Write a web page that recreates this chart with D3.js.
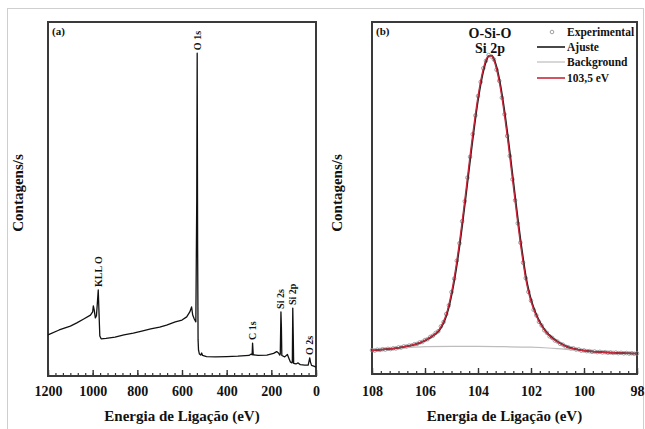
<!DOCTYPE html>
<html><head><meta charset="utf-8">
<script src="https://cdn.jsdelivr.net/npm/d3@7"></script>
<style>body{margin:0;background:#fff} svg{display:block} text{font-family:"Liberation Serif","Times New Roman",serif;font-weight:bold;fill:#111}</style>
</head><body><svg id="c" width="645" height="429"></svg>
<script>
// ---------- Panel (a): survey spectrum ----------
const surveyEnergy = [1200,1150,1100,1071,1040,1010,1000,997,993,988,983,978,975,972,968,962,940,900,860,818,780,740,700,669,630,600,579,565,557,552,545,538,534,532,530,528,526,522,516,512,508,490,450,400,350,300,290,286,284,281,260,220,190,176,168,162,160,157,155,153,140,128,122,115,108,106,104,102,100,90,80,70,50,35,28,25,20,10,0];
const surveyCounts = [11.6,13.0,14.1,15.0,16.1,17.2,18.1,19.8,18.6,16.4,17.0,21.5,24.3,18.6,11.3,10.5,10.6,11.0,11.6,12.1,12.7,13.3,13.8,14.4,15.3,15.8,16.7,18.1,19.5,17.2,16.1,15.3,49.7,91.2,35.6,10.2,7.3,6.2,5.9,6.5,5.8,5.5,5.4,5.5,5.6,5.8,6.2,6.0,9.3,6.0,5.8,5.9,6.4,6.9,6.5,5.9,6.2,18.1,14.0,5.8,5.4,6.1,5.1,4.0,3.7,3.8,19.2,12.0,3.6,3.4,3.7,3.2,3.1,3.1,5.1,4.0,3.0,2.8,2.5];
const surveyPeakLabels = ["O 1s","KLL O","C 1s","Si 2s","Si 2p","O 2s"];
const surveyPeakEnergy = [532,975,284,157,104,28];
const ticksA = [1200,1000,800,600,400,200,0];

// ---------- Panel (b): Si 2p high resolution ----------
const hrEnergy = d3.range(0,101).map(i => +(108 - i*0.1).toFixed(1));
const expCounts = [238,234,242,240,247,244,251,249,256,255,
  265,264,275,274,283,285,297,300,315,320,
  339,347,370,382,409,426,474,518,598,685,
  817,950,1130,1303,1523,1722,1958,2165,2391,2578,
  2772,2912,3049,3123,3180,3166,3136,3034,2924,2755,
  2589,2374,2175,1940,1732,1503,1310,1110,956,819,
  731,640,585,520,484,436,410,376,360,334,
  323,301,293,274,268,255,256,244,245,233,
  235,228,228,221,224,218,221,215,218,212,
  215,210,213,208,211,206,209,204,207,202,205];
const fitCounts = [235,237,240,242,245,247,249,251,254,258,
  262,267,272,276,281,287,294,302,312,323,
  336,350,367,385,405,430,470,522,593,690,
  811,956,1124,1310,1516,1730,1951,2172,2384,2585,
  2765,2919,3042,3130,3173,3173,3129,3041,2917,2762,
  2582,2381,2168,1947,1725,1510,1303,1117,950,825,
  725,645,580,525,480,440,407,380,357,337,
  320,304,290,277,266,258,253,247,242,236,
  233,230,227,224,222,220,219,217,216,214,
  213,212,211,210,209,208,207,206,205,204,203];
const compCounts = [235,237,240,242,245,247,249,251,254,258,
  262,267,272,276,281,287,294,302,312,323,
  336,350,367,385,405,430,470,522,593,690,
  811,956,1124,1310,1516,1730,1951,2172,2384,2585,
  2765,2919,3042,3130,3173,3173,3129,3041,2917,2762,
  2582,2381,2168,1947,1725,1510,1303,1117,950,825,
  725,645,580,525,480,440,407,380,357,337,
  320,304,290,277,266,258,253,247,242,236,
  233,230,227,224,222,220,219,217,216,214,
  213,212,211,210,209,208,207,206,205,204,203];
const bgEnergy = [108,107.5,107,106.5,106,105,104,103,102,101.5,101,100.5,100,99.5,99,98.5,98];
const bgCounts = [235,247,258,267,272,276,275,272,267,262,254,242,230,220,213,208,203];
const ticksB = [108,106,104,102,100,98];
const legendLabels = ["Experimental","Ajuste","Background","103,5 eV"];

const svg = d3.select("#c");
svg.append("rect").attr("x",7.5).attr("y",8.5).attr("width",636).attr("height",440)
  .attr("fill","none").attr("stroke","#cfcfcf").attr("stroke-width",1);

function panel(cfg){
  const g = svg.append("g");
  const x = d3.scaleLinear().domain(cfg.xDomain).range([cfg.left,cfg.right]);
  const y = d3.scaleLinear().domain(cfg.yDomain).range([cfg.bottom,cfg.top]);
  // minor ticks
  g.append("g").attr("transform",`translate(0,${cfg.bottom})`)
    .call(d3.axisBottom(x).tickValues(cfg.minor).tickSize(-3).tickFormat(""))
    .call(s=>{s.select(".domain").remove();s.selectAll("line").attr("stroke","#333").attr("stroke-width",1.2);});
  g.append("g").attr("transform",`translate(0,${cfg.bottom})`)
    .call(d3.axisBottom(x).tickValues(cfg.major).tickSize(-6).tickPadding(cfg.pad).tickFormat(d3.format("d")))
    .call(s=>{s.select(".domain").remove();s.selectAll("line").attr("stroke","#333").attr("stroke-width",1.4);
      s.selectAll("text").attr("font-family","'Liberation Serif',serif").attr("font-weight","bold").attr("font-size",14).attr("fill","#111");});
  g.append("rect").attr("x",cfg.left).attr("y",cfg.top).attr("width",cfg.right-cfg.left).attr("height",cfg.bottom-cfg.top)
    .attr("fill","none").attr("stroke","#3a3a3a").attr("stroke-width",2);
  g.append("text").attr("x",(cfg.left+cfg.right)/2).attr("y",421).attr("text-anchor","middle").attr("font-size",15)
    .text("Energia de Ligação (eV)");
  g.append("text").attr("transform",`translate(${cfg.ylabX},193) rotate(-90)`).attr("text-anchor","middle").attr("font-size",15)
    .text("Contagens/s");
  g.append("text").attr("x",cfg.left+4).attr("y",35).attr("font-size",11).text(cfg.tag);
  return {g,x,y};
}

// Panel a
const minorA = d3.range(0,1201,200/6).map(v=>+v.toFixed(3));
const A = panel({xDomain:[1200,0],yDomain:[0,100],left:48,right:316,top:22,bottom:376,
  major:ticksA,minor:minorA,pad:10.5,ylabX:22.5,tag:"(a)"});
const survey = surveyEnergy.map((e,i)=>({e,c:surveyCounts[i]}));
A.g.append("path").datum(survey).attr("fill","none").attr("stroke","#111").attr("stroke-width",1.3)
  .attr("stroke-linejoin","round")
  .attr("d",d3.line().x(d=>A.x(d.e)).y(d=>A.y(d.c)));
surveyPeakLabels.forEach((lab,i)=>{
  const e = surveyPeakEnergy[i];
  const near = survey.filter(d=>Math.abs(d.e-e)<=4);
  const top = d3.max(near,d=>d.c);
  const px = A.x(e), py = A.y(top)-3;
  A.g.append("text").attr("transform",`translate(${px+3.5},${py}) rotate(-90)`).attr("font-size",10).text(lab);
});

// Panel b
const minorB = d3.range(0,31).map(i=>+(98+i/3).toFixed(4));
const B = panel({xDomain:[108,98],yDomain:[0,3510],left:372,right:637,top:22,bottom:374,
  major:ticksB,minor:minorB,pad:12,ylabX:342,tag:"(b)"});
const hr = hrEnergy.map((e,i)=>({e,exp:expCounts[i],fit:fitCounts[i],comp:compCounts[i]}));
const bg = bgEnergy.map((e,i)=>({e,c:bgCounts[i]}));
B.g.append("g").selectAll("circle").data(hr).join("circle")
  .attr("cx",d=>B.x(d.e)).attr("cy",d=>B.y(d.exp)).attr("r",1.8)
  .attr("fill","none").attr("stroke","#8a8a8a").attr("stroke-width",0.8);
B.g.append("path").datum(bg).attr("fill","none").attr("stroke","#bdbdbd").attr("stroke-width",1.2)
  .attr("d",d3.line().curve(d3.curveMonotoneX).x(d=>B.x(d.e)).y(d=>B.y(d.c)));
B.g.append("path").datum(hr).attr("fill","none").attr("stroke","#1a1a1a").attr("stroke-width",1.6)
  .attr("d",d3.line().curve(d3.curveMonotoneX).x(d=>B.x(d.e)+0.6).y(d=>B.y(d.fit)));
B.g.append("path").datum(hr).attr("fill","none").attr("stroke","#c8283c").attr("stroke-width",1.4)
  .attr("d",d3.line().curve(d3.curveMonotoneX).x(d=>B.x(d.e)).y(d=>B.y(d.comp)));
B.g.append("text").attr("x",490).attr("y",38).attr("text-anchor","middle").attr("font-size",14).text("O-Si-O");
B.g.append("text").attr("x",490).attr("y",53).attr("text-anchor","middle").attr("font-size",14).text("Si 2p");

// legend
const legY = [32,47,62,78];
const lg = B.g.append("g");
legendLabels.forEach((lab,i)=>{
  const yy = legY[i];
  if(i===0){
    lg.append("circle").attr("cx",552).attr("cy",yy).attr("r",1.8).attr("fill","none").attr("stroke","#8a8a8a").attr("stroke-width",0.8);
  } else {
    lg.append("line").attr("x1",537).attr("x2",565).attr("y1",yy).attr("y2",yy)
      .attr("stroke",["","#1a1a1a","#bdbdbd","#c8283c"][i]).attr("stroke-width",i===2?1.2:1.6);
  }
  lg.append("text").attr("x",567).attr("y",yy+4).attr("font-size",11.5).text(lab);
});
</script></body></html>
